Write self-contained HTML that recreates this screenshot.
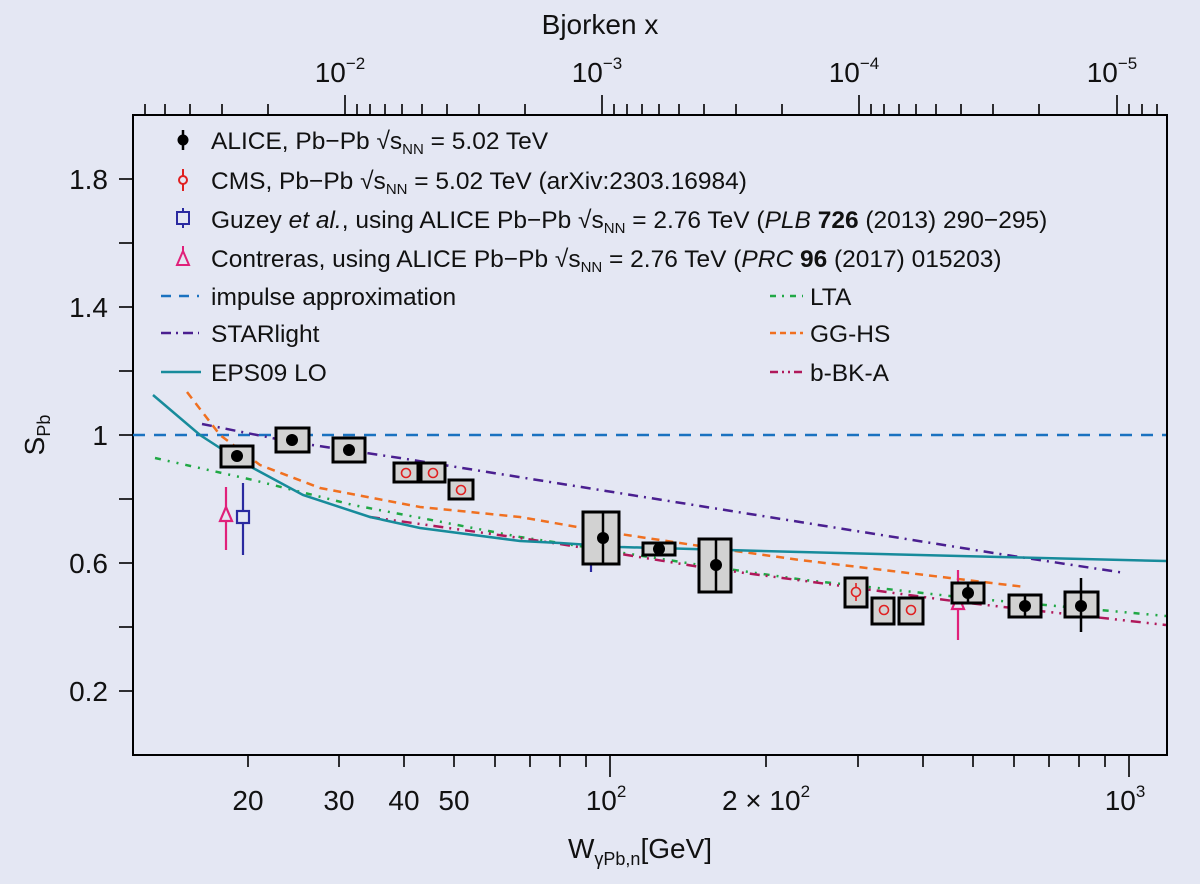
<!DOCTYPE html>
<html><head><meta charset="utf-8"><style>
body{margin:0;background:#e4e7f3;}
svg{display:block;font-family:"Liberation Sans","DejaVu Sans",sans-serif;}
</style></head><body>
<svg width="1200" height="884" viewBox="0 0 1200 884" xmlns="http://www.w3.org/2000/svg">
<rect width="1200" height="884" fill="#e4e7f3"/>
<rect x="133" y="115" width="1034" height="640" fill="none" stroke="#000" stroke-width="2"/>
<g stroke="#000" stroke-width="1.6">
<line x1="119" y1="179" x2="133" y2="179"/><line x1="119" y1="243" x2="133" y2="243"/>
<line x1="119" y1="307" x2="133" y2="307"/><line x1="119" y1="371" x2="133" y2="371"/>
<line x1="119" y1="435" x2="133" y2="435"/><line x1="119" y1="499" x2="133" y2="499"/>
<line x1="119" y1="563" x2="133" y2="563"/><line x1="119" y1="627" x2="133" y2="627"/>
<line x1="119" y1="691" x2="133" y2="691"/>
<line x1="248" y1="755" x2="248" y2="767"/><line x1="339" y1="755" x2="339" y2="767"/>
<line x1="404" y1="755" x2="404" y2="767"/><line x1="454" y1="755" x2="454" y2="767"/>
<line x1="495" y1="755" x2="495" y2="767"/><line x1="530" y1="755" x2="530" y2="767"/>
<line x1="560" y1="755" x2="560" y2="767"/><line x1="586" y1="755" x2="586" y2="767"/>
<line x1="610" y1="755" x2="610" y2="777"/>
<line x1="766" y1="755" x2="766" y2="767"/><line x1="858" y1="755" x2="858" y2="767"/>
<line x1="923" y1="755" x2="923" y2="767"/><line x1="973" y1="755" x2="973" y2="767"/>
<line x1="1014" y1="755" x2="1014" y2="767"/><line x1="1049" y1="755" x2="1049" y2="767"/>
<line x1="1079" y1="755" x2="1079" y2="767"/><line x1="1105" y1="755" x2="1105" y2="767"/>
<line x1="1129" y1="755" x2="1129" y2="777"/>
<line x1="145" y1="115" x2="145" y2="104"/><line x1="165" y1="115" x2="165" y2="104"/>
<line x1="190" y1="115" x2="190" y2="104"/><line x1="222" y1="115" x2="222" y2="104"/>
<line x1="268" y1="115" x2="268" y2="104"/>
<line x1="345" y1="115" x2="345" y2="95"/>
<line x1="357" y1="115" x2="357" y2="104"/><line x1="370" y1="115" x2="370" y2="104"/><line x1="385" y1="115" x2="385" y2="104"/><line x1="402" y1="115" x2="402" y2="104"/><line x1="422" y1="115" x2="422" y2="104"/><line x1="447" y1="115" x2="447" y2="104"/><line x1="479" y1="115" x2="479" y2="104"/><line x1="525" y1="115" x2="525" y2="104"/>
<line x1="602" y1="115" x2="602" y2="95"/>
<line x1="614" y1="115" x2="614" y2="104"/><line x1="627" y1="115" x2="627" y2="104"/><line x1="642" y1="115" x2="642" y2="104"/><line x1="659" y1="115" x2="659" y2="104"/><line x1="679" y1="115" x2="679" y2="104"/><line x1="704" y1="115" x2="704" y2="104"/><line x1="736" y1="115" x2="736" y2="104"/><line x1="782" y1="115" x2="782" y2="104"/>
<line x1="859" y1="115" x2="859" y2="95"/>
<line x1="871" y1="115" x2="871" y2="104"/><line x1="884" y1="115" x2="884" y2="104"/><line x1="899" y1="115" x2="899" y2="104"/><line x1="916" y1="115" x2="916" y2="104"/><line x1="936" y1="115" x2="936" y2="104"/><line x1="961" y1="115" x2="961" y2="104"/><line x1="993" y1="115" x2="993" y2="104"/><line x1="1039" y1="115" x2="1039" y2="104"/>
<line x1="1117" y1="115" x2="1117" y2="95"/>
<line x1="1129" y1="115" x2="1129" y2="104"/><line x1="1142" y1="115" x2="1142" y2="104"/><line x1="1157" y1="115" x2="1157" y2="104"/>
</g>
<g font-size="28" text-anchor="end" fill="#111">
<text x="108" y="189">1.8</text><text x="108" y="317">1.4</text><text x="108" y="445">1</text>
<text x="108" y="573">0.6</text><text x="108" y="701">0.2</text>
</g>
<text transform="translate(44,435) rotate(-90)" font-size="28" text-anchor="middle" fill="#111">S<tspan font-size="18" dy="6">Pb</tspan></text>
<g font-size="28" text-anchor="middle" fill="#111">
<text x="248" y="810">20</text><text x="339" y="810">30</text><text x="404" y="810">40</text><text x="454" y="810">50</text>
<text x="606" y="810">10<tspan font-size="17" dy="-13">2</tspan></text>
<text x="766" y="810">2 × 10<tspan font-size="17" dy="-13">2</tspan></text>
<text x="1125" y="810">10<tspan font-size="17" dy="-13">3</tspan></text>
<text x="640" y="858">W<tspan font-size="18" dy="7">γPb,n</tspan><tspan dy="-7">[GeV]</tspan></text>
<text x="600" y="34">Bjorken x</text>
<text x="340" y="82">10<tspan font-size="17" dy="-13">−2</tspan></text>
<text x="597" y="82">10<tspan font-size="17" dy="-13">−3</tspan></text>
<text x="854" y="82">10<tspan font-size="17" dy="-13">−4</tspan></text>
<text x="1112" y="82">10<tspan font-size="17" dy="-13">−5</tspan></text>
</g>
<line x1="133" y1="435" x2="1166" y2="435" stroke="#1a72c0" stroke-width="2.5" stroke-dasharray="12,9"/>
<polyline fill="none" stroke="#4a1f90" stroke-width="2.5" stroke-dasharray="10,6,2,6" points="202,424 292,442 400,458 600,490 800,522 1000,554 1125,573"/>
<polyline fill="none" stroke="#f07020" stroke-width="2.5" stroke-dasharray="8,6" points="187,392 220,435 260,465 320,488 420,507 520,517 600,531 700,546 800,560 900,572 1025,587"/>
<polyline fill="none" stroke="#20a845" stroke-width="2.5" stroke-dasharray="6,7,2,7,2,7" points="155,458 253,480 353,505 520,537 560,543 700,565 805,580 968,598 1166,616"/>
<polyline fill="none" stroke="#b0185a" stroke-width="2.5" stroke-dasharray="10,6,2,6,2,6" points="370,517 520,538 560,544 700,567 805,581 968,603 1166,625"/>
<polyline fill="none" stroke="#178b9b" stroke-width="2.5" points="153,395 200,435 220,448 253,468 303,495 370,517 420,528 520,541 560,543 620,547 800,552 1000,557 1166,561"/>
<g stroke-width="2.2" fill="#e4e7f3">
<line x1="226" y1="487" x2="226" y2="550" stroke="#e0207a"/>
<polygon points="226,507 220,521 232,521" stroke="#e0207a"/>
<line x1="243" y1="483" x2="243" y2="555" stroke="#2a2aa0"/>
<rect x="237" y="511" width="12" height="12" stroke="#2a2aa0"/>
<line x1="591" y1="546" x2="591" y2="572" stroke="#2a2aa0"/>
<rect x="586" y="552" width="11" height="11" stroke="#2a2aa0"/>
<polygon points="591,552 586,562 596,562" stroke="#e0207a"/>
<line x1="958" y1="570" x2="958" y2="640" stroke="#e0207a"/>
<polygon points="958,595 952,609 964,609" stroke="#e0207a"/>
</g>
<g fill="#d2d2d2" stroke="#000" stroke-width="3">
<rect x="221" y="446" width="32" height="21"/>
<rect x="276" y="428" width="33" height="24"/>
<rect x="333" y="438" width="32" height="24"/>
<rect x="583" y="512" width="36" height="52"/>
<rect x="643" y="543" width="32" height="12"/>
<rect x="699" y="539" width="32" height="53"/>
<rect x="952" y="583" width="32" height="20"/>
<rect x="1009" y="595" width="32" height="22"/>
<rect x="1065" y="592" width="33" height="25"/>
<rect x="394" y="463" width="24" height="19"/>
<rect x="421" y="463" width="24" height="19"/>
<rect x="449" y="480" width="24" height="19"/>
<rect x="845" y="578" width="22" height="29"/>
<rect x="872" y="598" width="22" height="26"/>
<rect x="899" y="598" width="24" height="26"/>
</g>
<g stroke="#000" stroke-width="2.5">
<line x1="603" y1="512" x2="603" y2="564"/><line x1="716" y1="539" x2="716" y2="592"/>
<line x1="659" y1="543" x2="659" y2="555"/><line x1="968" y1="583" x2="968" y2="603"/>
<line x1="1025" y1="595" x2="1025" y2="617"/><line x1="1081" y1="578" x2="1081" y2="632"/>
</g>
<g fill="#000">
<circle cx="237" cy="456" r="6"/><circle cx="292" cy="440" r="6"/><circle cx="349" cy="450" r="6"/>
<circle cx="603" cy="538" r="6"/><circle cx="659" cy="549" r="6"/><circle cx="716" cy="565" r="6"/>
<circle cx="968" cy="593" r="6"/><circle cx="1025" cy="606" r="6"/><circle cx="1081" cy="606" r="6"/>
</g>
<g fill="none" stroke="#e02020" stroke-width="1.6">
<circle cx="406" cy="473" r="4.5"/><circle cx="433" cy="473" r="4.5"/><circle cx="461" cy="490" r="4.5"/>
<circle cx="856" cy="592" r="4.5"/><line x1="856" y1="583" x2="856" y2="587"/><line x1="856" y1="597" x2="856" y2="601"/>
<circle cx="884" cy="610" r="4.5"/><circle cx="911" cy="610" r="4.5"/>
</g>
<g stroke-width="2">
<line x1="183" y1="130" x2="183" y2="150" stroke="#000" stroke-width="2.5"/><circle cx="183" cy="140" r="5.5" fill="#000"/>
<line x1="183" y1="169" x2="183" y2="191" stroke="#e02020"/><circle cx="183" cy="180" r="4" fill="#e4e7f3" stroke="#e02020"/>
<line x1="183" y1="208" x2="183" y2="228" stroke="#2a2aa0"/><rect x="177" y="212" width="12" height="12" fill="#e4e7f3" stroke="#2a2aa0"/>
<line x1="183" y1="246" x2="183" y2="252" stroke="#e0207a"/><polygon points="183,251 177,265 189,265" fill="#e4e7f3" stroke="#e0207a"/>
<line x1="161" y1="296" x2="199" y2="296" stroke="#1a72c0" stroke-width="2.5" stroke-dasharray="10,8"/>
<line x1="161" y1="333" x2="199" y2="333" stroke="#4a1f90" stroke-width="2.5" stroke-dasharray="10,5,2,5"/>
<line x1="161" y1="372" x2="201" y2="372" stroke="#178b9b" stroke-width="2.5"/>
<line x1="770" y1="296" x2="803" y2="296" stroke="#20a845" stroke-width="2.5" stroke-dasharray="6,6,2,6"/>
<line x1="770" y1="333" x2="803" y2="333" stroke="#f07020" stroke-width="2.5" stroke-dasharray="6,4"/>
<line x1="770" y1="372" x2="803" y2="372" stroke="#b0185a" stroke-width="2.5" stroke-dasharray="8,4,2,4,2,4"/>
</g>
<g font-size="24.5" fill="#111">
<text x="211" y="149">ALICE, Pb−Pb  √s<tspan font-size="15" dy="5">NN</tspan><tspan dy="-5"> = 5.02 TeV</tspan></text>
<text x="211" y="189">CMS, Pb−Pb  √s<tspan font-size="15" dy="5">NN</tspan><tspan dy="-5"> = 5.02 TeV (arXiv:2303.16984)</tspan></text>
<text x="211" y="228">Guzey <tspan font-style="italic">et al.</tspan>, using ALICE Pb−Pb  √s<tspan font-size="15" dy="5">NN</tspan><tspan dy="-5"> = 2.76 TeV (</tspan><tspan font-style="italic">PLB</tspan> <tspan font-weight="bold">726</tspan> (2013) 290−295)</text>
<text x="211" y="267">Contreras, using ALICE Pb−Pb  √s<tspan font-size="15" dy="5">NN</tspan><tspan dy="-5"> = 2.76 TeV (</tspan><tspan font-style="italic">PRC</tspan> <tspan font-weight="bold">96</tspan> (2017) 015203)</text>
<text x="211" y="305">impulse approximation</text>
<text x="211" y="342">STARlight</text>
<text x="211" y="381">EPS09 LO</text>
<text x="810" y="305">LTA</text>
<text x="810" y="342">GG-HS</text>
<text x="810" y="381">b-BK-A</text>
</g>
</svg>
</body></html>
